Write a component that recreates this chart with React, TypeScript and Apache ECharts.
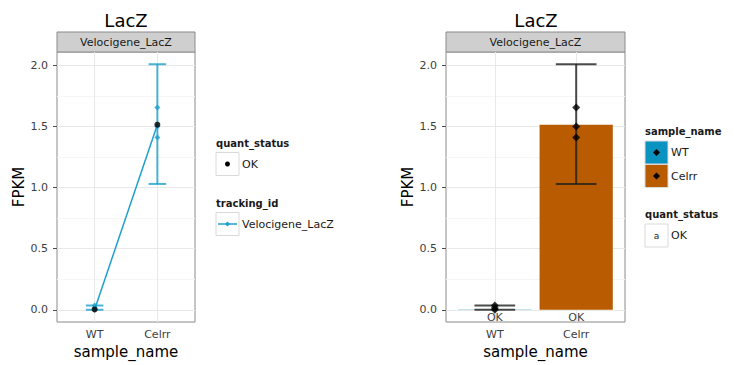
import React, { useEffect, useRef } from "react";
import * as echarts from "echarts";

const categories = ["WT", "Celrr"];
const fpkm = [0.003, 1.515];
const confLo = [0.0, 1.03];
const confHi = [0.035, 2.01];
const repWT = [0.0, 0.015, 0.035];
const repCelrr = [1.41, 1.5, 1.655];
const quantStatus = ["OK", "OK"];
const yTicks = [0, 0.5, 1, 1.5, 2];
const yMinorTicks = [0.25, 0.75, 1.25, 1.75];
const geneName = "LacZ";
const trackingId = "Velocigene_LacZ";

const FONT = "DejaVu Sans";
const CYAN = "#1fa0cc";
const BLUE = "#0a93c0";
const ORANGE = "#b95b00";
const fills = [BLUE, ORANGE];

const catIndex = categories.map((_, i) => i + 1);
const replicates = [repWT, repCelrr];

function gridLines(xIdx: number) {
  return {
    type: "line",
    xAxisIndex: xIdx,
    yAxisIndex: xIdx,
    data: [],
    z: 1,
    silent: true,
    markLine: {
      z: 1,
      silent: true,
      symbol: "none",
      label: { show: false },
      animation: false,
      data: [
        ...yMinorTicks.map((v) => ({ yAxis: v, lineStyle: { color: "#f5f5f5", width: 1, type: "solid" } })),
        ...yTicks.map((v) => ({ yAxis: v, lineStyle: { color: "#e8e8e8", width: 1, type: "solid" } })),
        ...catIndex.map((v) => ({ xAxis: v, lineStyle: { color: "#e8e8e8", width: 1, type: "solid" } })),
      ],
    },
  };
}

function errorBars(xIdx: number, color: string, capW: number, lw: number) {
  return {
    type: "custom",
    xAxisIndex: xIdx,
    yAxisIndex: xIdx,
    z: 3,
    data: catIndex.map((x, i) => [x, confLo[i], confHi[i]]),
    renderItem: (params: any, api: any) => {
      const x = api.value(0);
      const top = api.coord([x, api.value(2)]);
      const bot = api.coord([x, api.value(1)]);
      const hw = api.size([capW, 0])[0] / 2;
      const st = { stroke: color, lineWidth: lw, fill: "none" };
      return {
        type: "group",
        children: [
          { type: "line", shape: { x1: top[0] - hw, y1: top[1], x2: top[0] + hw, y2: top[1] }, style: st },
          { type: "line", shape: { x1: bot[0] - hw, y1: bot[1], x2: bot[0] + hw, y2: bot[1] }, style: st },
          { type: "polyline", shape: { points: [[top[0], top[1]], [bot[0], bot[1]]] }, style: st },
        ],
      };
    },
  };
}

function xAxisDef(gridIndex: number) {
  return {
    type: "value",
    gridIndex,
    min: 0.4,
    max: 2.6,
    name: "sample_name",
    nameLocation: "middle",
    nameGap: 22,
    nameTextStyle: { fontFamily: FONT, fontSize: 15, color: "#000" },
    axisLine: { show: false },
    splitLine: { show: false },
    axisTick: { show: true, length: 4, customValues: catIndex, lineStyle: { color: "#4d4d4d" } },
    axisLabel: {
      customValues: catIndex,
      formatter: (v: number) => categories[Math.round(v) - 1] ?? "",
      fontFamily: FONT,
      fontSize: 11,
      color: "#3d3d3d",
      margin: 7,
    },
  };
}

function yAxisDef(gridIndex: number) {
  return {
    type: "value",
    gridIndex,
    min: -0.1,
    max: 2.11,
    name: "FPKM",
    nameLocation: "middle",
    nameGap: 30,
    nameTextStyle: { fontFamily: FONT, fontSize: 15, color: "#000" },
    axisLine: { show: false },
    splitLine: { show: false },
    axisTick: { show: true, length: 4, customValues: yTicks, lineStyle: { color: "#4d4d4d" } },
    axisLabel: {
      customValues: yTicks,
      formatter: (v: number) => v.toFixed(1),
      fontFamily: FONT,
      fontSize: 11,
      color: "#3d3d3d",
      margin: 9,
    },
  };
}

function diamond(cx: number, cy: number, r: number) {
  return [
    [cx, cy - r],
    [cx + r, cy],
    [cx, cy + r],
    [cx - r, cy],
  ];
}

export default function App() {
  const ref = useRef<HTMLDivElement>(null);
  useEffect(() => {
    document.body.style.margin = "0";
    const chart = echarts.init(ref.current!, null, { renderer: "svg" });
    const txt = (x: number, y: number, text: string, extra: any = {}) => ({
      type: "text",
      x,
      y,
      style: { text, fontFamily: FONT, fontSize: 11, fill: "#1a1a1a", align: "left", verticalAlign: "middle", ...extra },
    });
    const box = (x: number, y: number, fill: string) => ({
      type: "rect",
      shape: { x, y, width: 23, height: 23 },
      style: { fill, stroke: "#d9d9d9", lineWidth: 1 },
    });
    const strip = (x: number, w: number) => [
      { type: "rect", shape: { x, y: 32, width: w, height: 20 }, style: { fill: "#cfcfcf", stroke: "#8a8a8a", lineWidth: 1 } },
      txt(x + w / 2, 42.5, trackingId, { align: "center" }),
    ];
    const option: any = {
      animation: false,
      backgroundColor: "#fff",
      grid: [
        { left: 57, top: 52, width: 138, height: 270, show: true, borderColor: "#8a8a8a", borderWidth: 1, backgroundColor: "#fff", containLabel: false },
        { left: 446, top: 52, width: 179, height: 270, show: true, borderColor: "#8a8a8a", borderWidth: 1, backgroundColor: "#fff", containLabel: false },
      ],
      xAxis: [xAxisDef(0), xAxisDef(1)],
      yAxis: [yAxisDef(0), yAxisDef(1)],
      series: [
        gridLines(0),
        gridLines(1),
        // left panel
        errorBars(0, "rgba(31,160,204,0.8)", 0.28, 2),
        {
          type: "line",
          xAxisIndex: 0,
          yAxisIndex: 0,
          z: 4,
          data: catIndex.map((x, i) => [x, fpkm[i]]),
          symbol: "none",
          lineStyle: { color: CYAN, width: 1.5 },
        },
        {
          type: "scatter",
          xAxisIndex: 0,
          yAxisIndex: 0,
          z: 5,
          symbol: "diamond",
          symbolSize: 6,
          itemStyle: { color: CYAN },
          data: catIndex.flatMap((x, i) => replicates[i].map((v) => [x, v])),
        },
        {
          type: "scatter",
          xAxisIndex: 0,
          yAxisIndex: 0,
          z: 6,
          symbol: "circle",
          symbolSize: 6,
          itemStyle: { color: "#000" },
          data: catIndex.map((x, i) => [x, fpkm[i]]),
        },
        // right panel
        {
          type: "custom",
          xAxisIndex: 1,
          yAxisIndex: 1,
          z: 2,
          data: catIndex.map((x, i) => [x, fpkm[i], i]),
          renderItem: (params: any, api: any) => {
            const x = api.value(0);
            const p1 = api.coord([x - 0.45, api.value(1)]);
            const p2 = api.coord([x + 0.45, 0]);
            return {
              type: "rect",
              shape: { x: p1[0], y: p1[1], width: p2[0] - p1[0], height: p2[1] - p1[1] },
              style: { fill: fills[api.value(2)] },
            };
          },
        },
        errorBars(1, "rgba(30,30,30,0.8)", 0.5, 2),
        {
          type: "scatter",
          xAxisIndex: 1,
          yAxisIndex: 1,
          z: 5,
          symbol: "diamond",
          symbolSize: 8,
          itemStyle: { color: "#000" },
          data: catIndex.flatMap((x, i) => replicates[i].map((v) => [x, v])),
        },
        {
          type: "custom",
          xAxisIndex: 1,
          yAxisIndex: 1,
          z: 6,
          data: catIndex.map((x, i) => [x, 0, i]),
          renderItem: (params: any, api: any) => {
            const p = api.coord([api.value(0), api.value(1)]);
            return {
              type: "text",
              x: p[0],
              y: p[1] + 8,
              style: {
                text: quantStatus[api.value(2)],
                fontFamily: FONT,
                fontSize: 11,
                fill: "#444",
                align: "center",
                verticalAlign: "middle",
              },
            };
          },
        },
      ],
      graphic: [
        txt(126, 20, geneName, { fontSize: 18, fill: "#000", align: "center" }),
        txt(536, 20, geneName, { fontSize: 18, fill: "#000", align: "center" }),
        ...strip(57, 138),
        ...strip(446, 179),
        // left legend
        txt(216, 143, "quant_status", { fontWeight: "bold", fontSize: 10 }),
        box(216, 152.5, "#fff"),
        { type: "circle", shape: { cx: 227.5, cy: 164, r: 2.5 }, style: { fill: "#000" } },
        txt(242, 164, quantStatus[0]),
        txt(216, 203, "tracking_id", { fontWeight: "bold", fontSize: 10 }),
        box(216, 212.5, "#fff"),
        { type: "line", shape: { x1: 218, y1: 224, x2: 237, y2: 224 }, style: { stroke: CYAN, lineWidth: 1.5 } },
        { type: "polygon", shape: { points: diamond(227.5, 224, 2.5) }, style: { fill: CYAN } },
        txt(242, 224, trackingId),
        // right legend
        txt(645, 131, "sample_name", { fontWeight: "bold", fontSize: 10 }),
        box(645, 141, fills[0]),
        { type: "polygon", shape: { points: diamond(656.5, 152.5, 3.5) }, style: { fill: "#000" } },
        txt(671, 152.5, categories[0]),
        box(645, 164.5, fills[1]),
        { type: "polygon", shape: { points: diamond(656.5, 176, 3.5) }, style: { fill: "#000" } },
        txt(671, 176, categories[1]),
        txt(645, 214, "quant_status", { fontWeight: "bold", fontSize: 10 }),
        box(645, 224, "#fff"),
        txt(656.5, 235.5, "a", { fontSize: 9, align: "center" }),
        txt(671, 235.5, quantStatus[0]),
      ],
    };
    chart.setOption(option);
    return () => chart.dispose();
  }, []);
  return <div ref={ref} style={{ width: 734, height: 365 }} />;
}
